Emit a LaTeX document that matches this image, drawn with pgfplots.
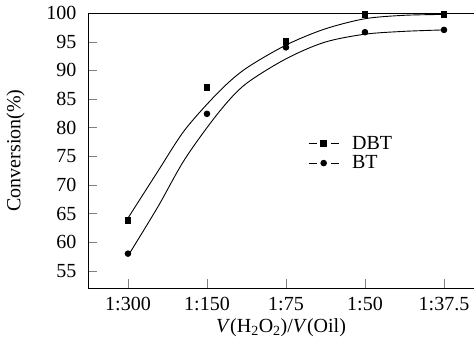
\documentclass[border=0pt]{standalone}
\usepackage{fontspec}
\setmainfont{Liberation Serif}
\usepackage{pgfplots}
\pgfplotsset{compat=1.18}
\usetikzlibrary{calc}
\newcommand{\bigf}{\fontsize{20bp}{24bp}\selectfont}
\begin{document}
\begin{tikzpicture}[font=\bigf]
\begin{axis}[
  scale only axis,
  width=386bp, height=275bp,
  xmin=-0.506, xmax=4.38,
  ymin=52, ymax=100,
  axis x line*=box, axis y line*=left,
  x axis line style={-}, y axis line style={-},
  xtick={0,1,2,3,4},
  xticklabels={1:300,1:150,1:75,1:50,1:37.5},
  ytick={55,60,...,100},
  xtick pos=lower, ytick pos=left,
  tick align=inside,
  major tick length=9bp,
  /pgf/number format/assume math mode=true,
  tick label style={font=\bigf},
  xticklabel style={yshift=-6bp},
  yticklabel style={xshift=-8bp},
  label style={font=\bigf},
  xlabel={\textit{V}(H\textsubscript{2}O\textsubscript{2})/\textit{V}(Oil)},
  ylabel={Conversion(\%)},
  xlabel style={yshift=-1bp},
  ylabel style={yshift=15bp},
  every axis plot/.append style={line width=0.9bp, black},
  legend style={draw=none, fill=none, font=\bigf, at={(0.57,0.56)}, anchor=north west,
    inner sep=0pt, row sep=1bp, cells={anchor=west}},
  legend cell align=left,
]
\addplot[smooth, forget plot] coordinates {
 (0,64.2) (0.38,72.4) (0.72,79.6) (1.14,86.1) (1.48,90.2) (2.0,94.4)
 (2.49,97.2) (3.0,99.0) (3.5,99.6) (4.0,99.75)};
\addplot[smooth, forget plot] coordinates {
 (0,57.6) (0.38,66.2) (0.72,74.5) (1.14,82.5) (1.48,87.5) (2.0,92.0)
 (2.49,94.9) (3.0,96.3) (3.5,96.8) (4.0,97.05)};
\addplot[only marks, mark=square*, mark size=2.8bp,
  legend image code/.code={
    \draw[line width=0.9bp] (0bp,0bp) -- (8bp,0bp);
    \draw[line width=0.9bp] (22bp,0bp) -- (30bp,0bp);
    \fill (15bp,0bp) +(-2.8bp,-2.8bp) rectangle +(2.8bp,2.8bp);
    \path (41bp,0bp);}]
 coordinates {(0,63.8) (1,87.0) (2,95.0) (3,99.7) (4,99.7)};
\addlegendentry{DBT}
\addplot[only marks, mark=*, mark size=2.8bp,
  legend image code/.code={
    \draw[line width=0.9bp] (0bp,0bp) -- (8bp,0bp);
    \draw[line width=0.9bp] (22bp,0bp) -- (30bp,0bp);
    \fill (15bp,0bp) circle (2.8bp);
    \path (41bp,0bp);}]
 coordinates {(0,58.0) (1,82.4) (2,94.0) (3,96.65) (4,97.05)};
\addlegendentry{BT}
\end{axis}
\pgfresetboundingbox
\useasboundingbox ($(current axis.south west)+(-88bp,-54bp)$) rectangle ($(current axis.north east)+(0bp,13bp)$);
\end{tikzpicture}
\end{document}
